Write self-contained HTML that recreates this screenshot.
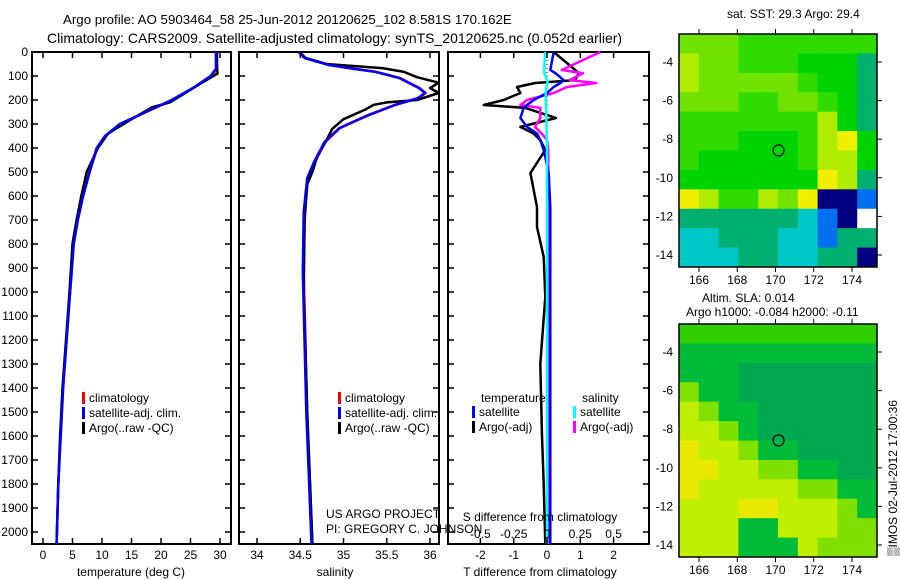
<!DOCTYPE html>
<html><head><meta charset="utf-8">
<style>
html,body{margin:0;padding:0;background:#fff;}
svg{display:block;font-family:"Liberation Sans",sans-serif;}
</style></head>
<body>
<svg id="fig" width="900" height="580" viewBox="0 0 900 580">
<text x="63" y="24" font-size="13.3">Argo profile: AO 5903464_58 25-Jun-2012 20120625_102 8.581S 170.162E</text>
<text x="47" y="43" font-size="14">Climatology: CARS2009. Satellite-adjusted climatology: synTS_20120625.nc (0.052d earlier)</text>
<g id="g1"></g>
<g id="g2"></g>
<g id="g3"></g>
<g id="m1"></g>
<g id="m2"></g>
<text x="326" y="518" font-size="12">US ARGO PROJECT</text>
<text x="326" y="533" font-size="12">PI: GREGORY C. JOHNSON</text>
<text x="727" y="18" font-size="12">sat. SST: 29.3 Argo: 29.4</text>
<text x="702" y="302" font-size="12">Altim. SLA: 0.014</text>
<text x="686" y="316" font-size="12">Argo h1000: -0.084 h2000: -0.11</text>
<text transform="translate(897,556) rotate(-90)" font-size="12">▒IMOS 02-Jul-2012 17:00:36</text>
</svg>
<script>
// ---- data ----
const depthTicks=[0,100,200,300,400,500,600,700,800,900,1000,1100,1200,1300,1400,1500,1600,1700,1800,1900,2000];
const tClimD=[0,70,100,150,200,250,300,350,400,500,600,700,800,1000,1200,1400,1600,1800,2050];
const tClim=[29.5,29.5,28.6,25.5,22,17.5,13.2,10.6,9.2,7.9,6.8,5.9,5.2,4.6,4.0,3.4,3.0,2.6,2.3];
const tSat=[29.3,29.3,28.4,25.4,21.8,17.4,13.0,10.5,9.1,7.9,6.8,5.9,5.2,4.6,4.0,3.4,3.0,2.6,2.3];
const tArgoD=[0,70,90,130,180,210,230,280,340,400,500,600,700,800,1000,1200,1400,1600,1800,2050];
const tArgo=[29.4,29.5,29.6,26.8,23.5,21.5,18.5,15,11,9.3,7.4,6.5,5.7,5.0,4.5,3.9,3.3,2.9,2.6,2.3];
const tTicks=[0,5,10,15,20,25,30];
const sClimD=[0,25,54,67,83,108,150,171,192,221,262,317,375,458,525,667,917,1500,2050];
const sClim=[34.49,34.56,34.84,35.07,35.38,35.65,35.88,35.95,35.87,35.6,35.3,34.96,34.79,34.67,34.59,34.55,34.54,34.58,34.64];
const sArgoD=[0,25,50,67,83,105,128,150,171,200,210,220,240,280,320,370,430,500,550,700,1000,1500,2050];
const sArgo=[34.49,34.56,34.8,35.45,35.7,35.85,36.1,36.0,36.1,35.85,35.5,35.35,35.25,35.0,34.87,34.8,34.7,34.64,34.58,34.55,34.54,34.58,34.64];
const sTicks=[34,34.5,35,35.5,36];
const dD=[0,75,88,117,129,146,171,200,221,233,275,312,340,367,408,504,646,729,854,1021,1300,1600,1800,2050];
const dTArgo=[0.2,0.85,0.95,0.85,-0.35,-0.9,-0.8,-1.3,-1.9,-0.65,0.27,-0.8,-0.4,-0.2,-0.05,-0.5,-0.3,-0.3,-0.1,-0.05,-0.2,-0.15,-0.1,-0.05];
const dTSat=[0.2,0.1,0.25,0.5,0.4,0.2,0,-0.4,-0.6,-0.7,-0.8,-0.6,-0.3,-0.2,-0.1,0.05,0.1,0.1,0.1,0.1,0.1,0.1,0.1,0.1];
const dSSat=[-0.015,-0.02,-0.02,0,0.005,-0.005,-0.01,-0.01,-0.008,-0.006,-0.005,-0.004,-0.003,-0.002,0,0,0,0,0,0,0,0,0,0];
const dSArgo=[0.4,0.11,0.27,0.17,0.37,0.15,0.05,-0.15,-0.2,-0.05,-0.05,-0.09,-0.04,0,0.01,0.01,0.01,0.015,0.01,0.01,0.01,0.01,0.01,0.01];
const dTTicks=[-2,-1,0,1,2];
const dSTicks=[-0.5,-0.25,0,0.25,0.5];
const dSTickLabels=["-0.5","-0.25","0","0.25","0.5"];
const lonTicks=[166,168,170,172,174];
const latTicks=[-4,-6,-8,-10,-12,-14];
const sstGrid=["4443333333","5443332221","5444443221","4443344321","3333333521","3332223562","3222223552","2222222651","6533546778","1111110879","0011100811","0001100117"];
const slaGrid=["3333333333","2222222222","2221111111","4221111111","5422111111","5542111111","6554221111","6655442211","6555554422","5556655542","5552255544","5552225444"];
// ---- drawing ----
const NS="http://www.w3.org/2000/svg";
function mk(parent,tag,attrs){const e=document.createElementNS(NS,tag);for(const k in attrs)e.setAttribute(k,attrs[k]);parent.appendChild(e);return e;}
const Y0=52,Y1=544,DMAX=2050;
const yD=d=>Y0+d/DMAX*(Y1-Y0);
function frame(g,x0,x1,withLabels){
  const r=mk(g,'rect',{x:x0,y:Y0,width:x1-x0,height:Y1-Y0,fill:'none',stroke:'#000','stroke-width':2});
  
  
  depthTicks.forEach(d=>{
    const y=yD(d);
    const t1=mk(g,'line',{x1:x0,x2:x0+6,y1:y,y2:y,stroke:'#000','stroke-width':1.5});
    
    
    const t2=mk(g,'line',{x1:x1-6,x2:x1,y1:y,y2:y,stroke:'#000','stroke-width':1.5});
    
    
    if(withLabels){const t=mk(g,'text',{x:x0-4,y:y+4,'font-size':12,'text-anchor':'end'});t.textContent=d;
      
      }
  });
}
function xTicks(g,vals,labels,sx,x0,x1,labelY,top,bottom){
  vals.forEach((v,i)=>{const x=sx(v);
    if(top){const l=mk(g,'line',{x1:x,x2:x,y1:Y0,y2:Y0+6,stroke:'#000','stroke-width':1.5});
      
      }
    if(bottom){const l=mk(g,'line',{x1:x,x2:x,y1:Y1-6,y2:Y1,stroke:'#000','stroke-width':1.5});
      
      }
    const t=mk(g,'text',{x:x,y:labelY,'font-size':12,'text-anchor':'middle'});t.textContent=labels[i];
    
    
  });
}
function line(g,xs,ds,sx,color,name,w){
  const pts=xs.map((v,i)=>sx(v).toFixed(1)+','+yD(ds[i]).toFixed(1)).join(' ');
  const p=mk(g,'polyline',{points:pts,fill:'none',stroke:color,'stroke-width':w||2.5,'stroke-linejoin':'round'});
  
  
}
function legend(g,x,y,items){
  items.forEach((it,i)=>{
    const b=mk(g,'rect',{x:x,y:y+i*15-10,width:3,height:12,fill:it[0]});
    
    
    const t=mk(g,'text',{x:x+7,y:y+i*15,'font-size':12});t.textContent=it[1];
    
    
  });
}
function xlabel(g,x,y,s,name){const t=mk(g,'text',{x:x,y:y,'font-size':12,'text-anchor':'middle'});t.textContent=s;
  
  }
// panel 1
const g1=document.getElementById('g1');
const sT=v=>43+v*(220-43)/30;
frame(g1,32,231,true);
line(g1,tClim,tClimD,sT,'#ff0000','temp-climatology-line');
line(g1,tArgo,tArgoD,sT,'#000000','temp-argo-line');
line(g1,tSat,tClimD,sT,'#0000ff','temp-satellite-line');
xTicks(g1,tTicks,tTicks.map(String),sT,32,231,559,true,true);
xlabel(g1,131,576,'temperature (deg C)','temp-axis-title');
legend(g1,82,402,[['#ff0000','climatology'],['#0000ff','satellite-adj. clim.'],['#000','Argo(..raw -QC)']]);
// panel 2
const g2=document.getElementById('g2');
const sS=v=>257+(v-34)*(430-257)/2;
frame(g2,239,439,false);
line(g2,sClim,sClimD,sS,'#ff0000','sal-climatology-line');
line(g2,sArgo,sArgoD,sS,'#000000','sal-argo-line');
line(g2,sClim.map(v=>v-0.01),sClimD,sS,'#0000ff','sal-satellite-line');
xTicks(g2,sTicks,sTicks.map(String),sS,239,439,559,true,true);
xlabel(g2,335,576,'salinity','sal-axis-title');
legend(g2,338,402,[['#ff0000','climatology'],['#0000ff','satellite-adj. clim.'],['#000','Argo(..raw -QC)']]);
// panel 3
const g3=document.getElementById('g3');
const sD=v=>547+v*33.3;
const sDS=v=>547+v*133.2;
frame(g3,448,649,false);
const zl=mk(g3,'line',{x1:547,x2:547,y1:Y0,y2:Y1,stroke:'#000','stroke-width':1,'stroke-dasharray':'1,3'});


line(g3,dTArgo,dD,sD,'#000000','temp-diff-argo-line');
line(g3,dSArgo,dD,sDS,'#ff00ff','sal-diff-argo-line');
line(g3,dTSat,dD,sD,'#0000ff','temp-diff-satellite-line');
line(g3,dSSat,dD,sDS,'#00ffff','sal-diff-satellite-line');
xTicks(g3,dTTicks,dTTicks.map(String),sD,448,649,559,true,true);
xTicks(g3,dSTicks,dSTickLabels,sDS,448,649,538,false,false);
xlabel(g3,540,521,'S difference from climatology','sal-diff-axis-title');
xlabel(g3,540,576,'T difference from climatology','temp-diff-axis-title');
const lt=mk(g3,'text',{x:481,y:402,'font-size':12});lt.textContent='temperature';


const ls=mk(g3,'text',{x:582,y:402,'font-size':12});ls.textContent='salinity';


legend(g3,472,416,[['#0000ff','satellite'],['#000','Argo(-adj)']]);
legend(g3,573,416,[['#00ffff','satellite'],['#ff00ff','Argo(-adj)']]);
// maps
const pal1={'0':'#00c8c8','1':'#00b070','2':'#00d400','3':'#30dc00','4':'#70e400','5':'#b0ec00','6':'#f0f000','7':'#000080','8':'#0070f0','9':'#ffffff'};
const pal2={'1':'#00a850','2':'#00bc38','3':'#30d000','4':'#80e000','5':'#c0f000','6':'#e8e800'};
function map(id,grid,pal,top,bottomY){
  const g=document.getElementById(id);
  const X0=679,X1=877,H=233;
  const lonX=l=>699+(l-166)*(852-699)/8;
  const latY=l=>top+28+(-4-l)*(193/10);
  const rows=grid.length,cols=grid[0].length;
  const cw=(X1-X0)/cols,ch=H/rows;
  grid.forEach((row,r)=>{[...row].forEach((c,k)=>{
    const cell=mk(g,'rect',{x:X0+k*cw,y:top+r*ch,width:cw+0.5,height:ch+0.5,fill:pal[c]});
    
    
  });});
  const fr=mk(g,'rect',{x:X0,y:top,width:X1-X0,height:H,fill:'none',stroke:'#000','stroke-width':1.5});
  
  
  const ci=mk(g,'circle',{cx:lonX(170.16),cy:latY(-8.58),r:5.5,fill:'none',stroke:'#000','stroke-width':1.2});
  
  
  lonTicks.forEach(l=>{const x=lonX(l);
    const a=mk(g,'line',{x1:x,x2:x,y1:top-5,y2:top,stroke:'#000'});
    
    
    const b=mk(g,'line',{x1:x,x2:x,y1:top+H,y2:top+H+5,stroke:'#000'});
    
    
    const t=mk(g,'text',{x:x,y:bottomY,'font-size':12,'text-anchor':'middle'});t.textContent=l;
    
    });
  latTicks.forEach(l=>{const y=latY(l);
    const a=mk(g,'line',{x1:X1,x2:X1+5,y1:y,y2:y,stroke:'#000'});
    
    
    const t=mk(g,'text',{x:673,y:y+4,'font-size':12,'text-anchor':'end'});t.textContent=l;
    
    });
}
map('m1',sstGrid,pal1,34,284);
map('m2',slaGrid,pal2,324,574);
</script>
</body></html>
